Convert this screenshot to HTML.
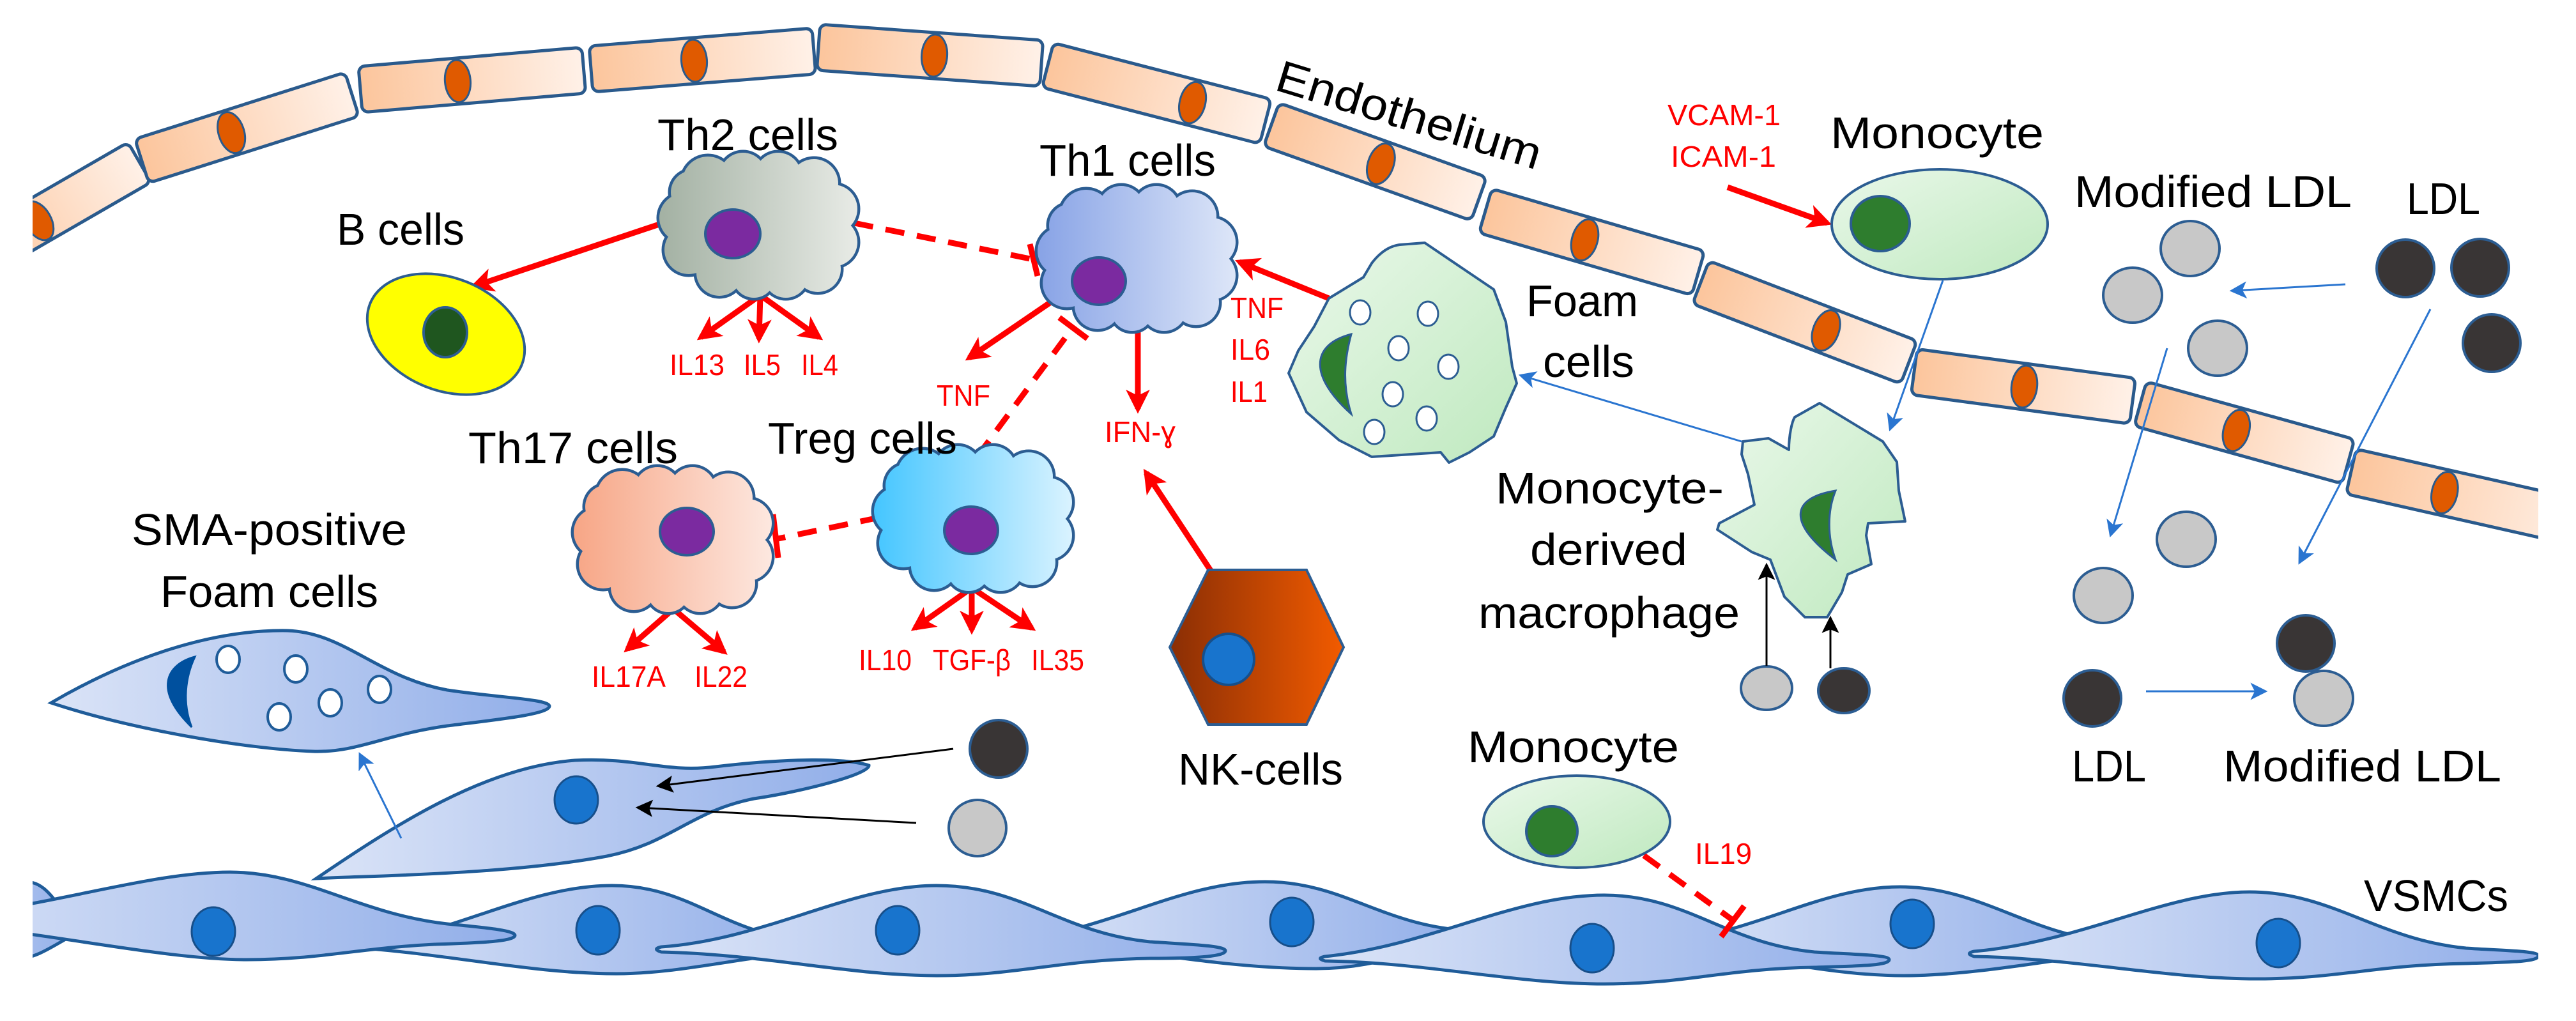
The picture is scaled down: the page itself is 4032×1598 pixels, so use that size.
<!DOCTYPE html>
<html><head><meta charset="utf-8"><style>
html,body{margin:0;padding:0;background:#fff;}
svg{display:block;}
text{font-family:"Liberation Sans",sans-serif;}
</style></head><body>
<svg xmlns="http://www.w3.org/2000/svg" width="4032" height="1598" viewBox="0 0 4032 1598">
<defs>
<linearGradient id="endo" x1="0" y1="0" x2="1" y2="0"><stop offset="0" stop-color="#fcc59c"/><stop offset="1" stop-color="#fff1e8"/></linearGradient>
<linearGradient id="vsmc" x1="0" y1="0" x2="1" y2="0"><stop offset="0" stop-color="#dbe4f7"/><stop offset="1" stop-color="#91aee9"/></linearGradient>
<linearGradient id="green" x1="0" y1="0" x2="1" y2="1"><stop offset="0" stop-color="#eaf8ea"/><stop offset="1" stop-color="#bfe9bf"/></linearGradient>
<linearGradient id="nk" x1="0" y1="0" x2="1" y2="0"><stop offset="0" stop-color="#8a2e05"/><stop offset="1" stop-color="#f25b00"/></linearGradient>
<linearGradient id="gTh2" gradientUnits="userSpaceOnUse" x1="-155" y1="0" x2="155" y2="0"><stop offset="0" stop-color="#a3b1a3"/><stop offset="1" stop-color="#e8ebe6"/></linearGradient>
<linearGradient id="gTh1" gradientUnits="userSpaceOnUse" x1="-155" y1="0" x2="155" y2="0"><stop offset="0" stop-color="#88a3e6"/><stop offset="1" stop-color="#dde6f8"/></linearGradient>
<linearGradient id="gTh17" gradientUnits="userSpaceOnUse" x1="-155" y1="0" x2="155" y2="0"><stop offset="0" stop-color="#f7a686"/><stop offset="1" stop-color="#fde8e0"/></linearGradient>
<linearGradient id="gTreg" gradientUnits="userSpaceOnUse" x1="-155" y1="0" x2="155" y2="0"><stop offset="0" stop-color="#45c6ff"/><stop offset="1" stop-color="#daf3ff"/></linearGradient>
<g id="cloud">
<ellipse cx="0" cy="0" rx="112" ry="76"/>
<circle cx="-80" cy="-68" r="40"/><circle cx="-25" cy="-78" r="36"/><circle cx="30" cy="-78" r="36"/><circle cx="86" cy="-66" r="38"/>
<circle cx="116" cy="-26" r="38"/><circle cx="116" cy="26" r="38"/><circle cx="92" cy="68" r="36"/>
<circle cx="42" cy="78" r="35"/><circle cx="-8" cy="80" r="33"/><circle cx="-62" cy="74" r="36"/>
<circle cx="-110" cy="38" r="38"/><circle cx="-118" cy="-12" r="38"/><circle cx="-104" cy="-52" r="34"/>
</g>
<marker id="ar" viewBox="0 0 10 10" refX="8" refY="5" markerWidth="4.2" markerHeight="4.2" orient="auto"><path d="M0,0 L10,5 L0,10 L2.5,5 z" fill="#ff0000"/></marker>
<marker id="ab" viewBox="0 0 10 10" refX="8" refY="5" markerWidth="9" markerHeight="9" orient="auto"><path d="M0,0 L10,5 L0,10 L2.5,5 z" fill="#2a75d0"/></marker>
<marker id="ak" viewBox="0 0 10 10" refX="8" refY="5" markerWidth="9" markerHeight="9" orient="auto"><path d="M0,0 L10,5 L0,10 L2,5 z" fill="#000"/></marker>
<clipPath id="clip"><rect x="51" y="0" width="3922" height="1598"/></clipPath>
</defs>
<rect width="4032" height="1598" fill="#fff"/>

<!-- Endothelium -->
<g clip-path="url(#clip)" stroke="#2a5a8c" stroke-width="5">
<g transform="translate(-38,402) rotate(-30)"><rect x="0" y="-36" width="296" height="72" rx="10" fill="url(#endo)"/><ellipse cx="113" cy="0" rx="20" ry="33" fill="#e05a00" stroke-width="3"/></g>
<g transform="translate(222,252) rotate(-17.6)"><rect x="0" y="-36" width="345" height="72" rx="10" fill="url(#endo)"/><ellipse cx="147" cy="0" rx="20" ry="33" fill="#e05a00" stroke-width="3"/></g>
<g transform="translate(564,140) rotate(-4.9)"><rect x="0" y="-36" width="351" height="72" rx="10" fill="url(#endo)"/><ellipse cx="153" cy="0" rx="20" ry="33" fill="#e05a00" stroke-width="3"/></g>
<g transform="translate(925,108) rotate(-4.6)"><rect x="0" y="-36" width="350" height="72" rx="10" fill="url(#endo)"/><ellipse cx="162" cy="0" rx="20" ry="33" fill="#e05a00" stroke-width="3"/></g>
<g transform="translate(1281,74) rotate(4.1)"><rect x="0" y="-36" width="350" height="72" rx="10" fill="url(#endo)"/><ellipse cx="182" cy="0" rx="20" ry="33" fill="#e05a00" stroke-width="3"/></g>
<g transform="translate(1640,102) rotate(14.5)"><rect x="0" y="-36" width="352" height="72" rx="10" fill="url(#endo)"/><ellipse cx="234" cy="0" rx="20" ry="33" fill="#e05a00" stroke-width="3"/></g>
<g transform="translate(1990,195) rotate(19.7)"><rect x="0" y="-36" width="345" height="72" rx="10" fill="url(#endo)"/><ellipse cx="182" cy="0" rx="20" ry="33" fill="#e05a00" stroke-width="3"/></g>
<g transform="translate(2325,330) rotate(16.3)"><rect x="0" y="-36" width="347" height="72" rx="10" fill="url(#endo)"/><ellipse cx="162" cy="0" rx="20" ry="33" fill="#e05a00" stroke-width="3"/></g>
<g transform="translate(2662,442) rotate(21)"><rect x="0" y="-36" width="349" height="72" rx="10" fill="url(#endo)"/><ellipse cx="210" cy="0" rx="20" ry="33" fill="#e05a00" stroke-width="3"/></g>
<g transform="translate(2996,582) rotate(7.6)"><rect x="0" y="-36" width="345" height="72" rx="10" fill="url(#endo)"/><ellipse cx="174" cy="0" rx="20" ry="33" fill="#e05a00" stroke-width="3"/></g>
<g transform="translate(3350,632) rotate(15.5)"><rect x="0" y="-36" width="338" height="72" rx="10" fill="url(#endo)"/><ellipse cx="156" cy="0" rx="20" ry="33" fill="#e05a00" stroke-width="3"/></g>
<g transform="translate(3680,738) rotate(12.7)"><rect x="0" y="-36" width="380" height="72" rx="10" fill="url(#endo)"/><ellipse cx="150" cy="0" rx="20" ry="33" fill="#e05a00" stroke-width="3"/></g>
</g>
<text x="1993" y="140" font-size="70" transform="rotate(17 1993 140)" textLength="430" lengthAdjust="spacingAndGlyphs">Endothelium</text>

<!-- VSMCs -->
<g clip-path="url(#clip)" stroke="#1f5c99" stroke-width="5" fill="url(#vsmc)">
<!-- B -->
<path d="M540,1482 C 700,1470 820,1386 958,1386 C 1080,1386 1130,1460 1260,1472 Q1280,1480 1260,1490 C 1150,1500 1060,1524 965,1524 C 830,1524 700,1492 540,1482 Z"/>
<ellipse cx="936" cy="1456" rx="34" ry="38" fill="#1874cd" stroke="#174f8a" stroke-width="3"/>
<!-- D -->
<path d="M1600,1470 C 1750,1450 1850,1380 1980,1380 C 2100,1380 2160,1446 2290,1456 Q2310,1464 2290,1474 C 2200,1490 2150,1516 2060,1516 C 1900,1516 1750,1480 1600,1470 Z"/>
<ellipse cx="2022" cy="1443" rx="34" ry="38" fill="#1874cd" stroke="#174f8a" stroke-width="3"/>
<!-- F -->
<path d="M2600,1476 C 2750,1460 2850,1388 2974,1388 C 3100,1388 3180,1466 3310,1474 Q3330,1482 3310,1490 C 3200,1505 3080,1527 2980,1527 C 2850,1527 2720,1490 2600,1476 Z"/>
<ellipse cx="2993" cy="1446" rx="34" ry="38" fill="#1874cd" stroke="#174f8a" stroke-width="3"/>
<!-- A0 -->
<path d="M-200,1440 C -50,1420 0,1380 40,1380 C 80,1380 90,1430 125,1446 Q135,1452 125,1458 C 90,1475 60,1500 30,1500 C -50,1500 -120,1460 -200,1440 Z"/>
<!-- A -->
<path d="M-150,1440 C 50,1430 220,1365 360,1365 C 480,1365 560,1430 700,1446 C 760,1452 806,1456 806,1464 C 806,1474 740,1476 680,1478 C 560,1484 500,1502 386,1502 C 250,1502 60,1455 -150,1440 Z"/>
<ellipse cx="334" cy="1458" rx="34" ry="38" fill="#1874cd" stroke="#174f8a" stroke-width="3"/>
<!-- C -->
<path d="M1035,1482 C 1200,1470 1330,1386 1466,1386 C 1600,1386 1660,1460 1800,1474 C 1860,1478 1918,1480 1918,1488 C 1918,1498 1860,1500 1800,1500 C 1660,1502 1590,1527 1466,1527 C 1330,1527 1200,1494 1035,1490 C 1025,1487 1025,1484 1035,1482 Z"/>
<ellipse cx="1405" cy="1456" rx="34" ry="38" fill="#1874cd" stroke="#174f8a" stroke-width="3"/>
<!-- E -->
<path d="M2074,1497 C 2240,1480 2370,1401 2511,1401 C 2640,1401 2700,1476 2840,1490 C 2900,1494 2957,1494 2957,1502 C 2957,1512 2900,1512 2840,1514 C 2700,1516 2640,1540 2511,1540 C 2370,1540 2230,1506 2074,1504 C 2064,1501 2064,1499 2074,1497 Z"/>
<ellipse cx="2492" cy="1484" rx="34" ry="38" fill="#1874cd" stroke="#174f8a" stroke-width="3"/>
<!-- G -->
<path d="M3090,1489 C 3260,1474 3390,1396 3521,1396 C 3650,1396 3720,1470 3860,1484 C 3920,1488 3973,1488 3973,1496 C 3973,1506 3920,1506 3860,1508 C 3720,1510 3660,1532 3533,1532 C 3390,1532 3250,1500 3090,1497 C 3080,1494 3080,1491 3090,1489 Z"/>
<ellipse cx="3566" cy="1476" rx="34" ry="38" fill="#1874cd" stroke="#174f8a" stroke-width="3"/>
</g>
<text x="3700" y="1426" font-size="70" textLength="226" lengthAdjust="spacingAndGlyphs">VSMCs</text>

<!-- SMA-positive foam cell -->
<path d="M80,1100 C 200,1030 330,985 450,987 C 540,990 590,1060 700,1080 C 780,1092 858,1094 860,1105 C 860,1118 780,1126 700,1136 C 600,1150 560,1178 490,1176 C 380,1172 200,1140 80,1100 Z" fill="url(#vsmc)" stroke="#1f5c99" stroke-width="5"/>
<path d="M305,1028 C 260,1040 240,1080 300,1138 C 285,1100 290,1060 305,1028 Z" fill="#00509e" stroke="#00509e" stroke-width="3"/>
<g fill="#fff" stroke="#1f5c99" stroke-width="4">
<ellipse cx="357" cy="1032" rx="18" ry="21"/><ellipse cx="463" cy="1047" rx="18" ry="21"/><ellipse cx="594" cy="1079" rx="18" ry="21"/><ellipse cx="517" cy="1100" rx="18" ry="21"/><ellipse cx="437" cy="1122" rx="18" ry="21"/>
</g>
<text x="206" y="853" font-size="70" textLength="431" lengthAdjust="spacingAndGlyphs">SMA-positive</text>
<text x="251" y="950" font-size="70" textLength="341" lengthAdjust="spacingAndGlyphs">Foam cells</text>

<!-- migrating VSMC -->
<path d="M495,1375 C 620,1290 760,1200 900,1190 C 1000,1185 1040,1210 1120,1200 C 1220,1188 1320,1185 1360,1198 C 1362,1212 1250,1240 1180,1250 C 1080,1270 1050,1320 950,1340 C 800,1368 600,1370 495,1375 Z" fill="url(#vsmc)" stroke="#1f5c99" stroke-width="5"/>
<ellipse cx="902" cy="1252" rx="34" ry="37" fill="#1874cd" stroke="#174f8a" stroke-width="3"/>
<line x1="628" y1="1312" x2="564" y2="1182" stroke="#2a75d0" stroke-width="3" marker-end="url(#ab)"/>
<ellipse cx="1563" cy="1172" rx="45" ry="45" fill="#393535" stroke="#2c5d92" stroke-width="4"/>
<ellipse cx="1530" cy="1296" rx="45" ry="44" fill="#c8c8c8" stroke="#2c5d92" stroke-width="4"/>
<line x1="1492" y1="1172" x2="1032" y2="1230" stroke="#000" stroke-width="3" marker-end="url(#ak)"/>
<line x1="1434" y1="1288" x2="1000" y2="1264" stroke="#000" stroke-width="3" marker-end="url(#ak)"/>

<!-- red connectors -->
<g stroke="#ff0000" stroke-width="9" fill="none">
<line x1="1035" y1="350" x2="742" y2="448" marker-end="url(#ar)"/>
<line x1="1190" y1="462" x2="1097" y2="528" marker-end="url(#ar)"/>
<line x1="1190" y1="462" x2="1188" y2="530" marker-end="url(#ar)"/>
<line x1="1190" y1="462" x2="1282" y2="528" marker-end="url(#ar)"/>
<line x1="1646" y1="472" x2="1517" y2="560" marker-end="url(#ar)"/>
<line x1="1781" y1="515" x2="1781" y2="640" marker-end="url(#ar)"/>
<line x1="1895" y1="893" x2="1794" y2="740" marker-end="url(#ar)"/>
<line x1="2080" y1="467" x2="1940" y2="410" marker-end="url(#ar)"/>
<line x1="1054" y1="953" x2="982" y2="1016" marker-end="url(#ar)"/>
<line x1="1054" y1="953" x2="1133" y2="1020" marker-end="url(#ar)"/>
<line x1="1521" y1="920" x2="1432" y2="983" marker-end="url(#ar)"/>
<line x1="1521" y1="920" x2="1521" y2="986" marker-end="url(#ar)"/>
<line x1="1521" y1="920" x2="1615" y2="983" marker-end="url(#ar)"/>
<line x1="2704" y1="293" x2="2860" y2="349" marker-end="url(#ar)"/>
<g stroke-dasharray="30 20">
<line x1="1337" y1="349" x2="1612" y2="405"/>
<line x1="1530" y1="714" x2="1676" y2="517"/>
<line x1="1376" y1="810" x2="1218" y2="843"/>
<line x1="2573" y1="1339" x2="2712" y2="1440"/>
</g>
<line x1="1612" y1="382" x2="1624" y2="432"/>
<line x1="1658" y1="497" x2="1702" y2="530"/>
<line x1="1210" y1="805" x2="1218" y2="873"/>
<line x1="2730" y1="1418" x2="2694" y2="1466"/>
</g>

<!-- clouds -->
<g transform="translate(1188,353)"><use href="#cloud" fill="#2c5d92" stroke="#2c5d92" stroke-width="9"/><use href="#cloud" fill="url(#gTh2)"/></g>
<g transform="translate(1780,405)"><use href="#cloud" fill="#2c5d92" stroke="#2c5d92" stroke-width="9"/><use href="#cloud" fill="url(#gTh1)"/></g>
<g transform="translate(1054,845)"><use href="#cloud" fill="#2c5d92" stroke="#2c5d92" stroke-width="9"/><use href="#cloud" fill="url(#gTh17)"/></g>
<g transform="translate(1524,812)"><use href="#cloud" fill="#2c5d92" stroke="#2c5d92" stroke-width="9"/><use href="#cloud" fill="url(#gTreg)"/></g>
<g fill="#7b2aa0" stroke="#2c5d92" stroke-width="4">
<ellipse cx="1147" cy="366" rx="43" ry="38"/>
<ellipse cx="1720" cy="440" rx="42" ry="37"/>
<ellipse cx="1075" cy="832" rx="42" ry="37"/>
<ellipse cx="1520" cy="830" rx="42" ry="37"/>
</g>

<!-- B cell -->
<ellipse cx="698" cy="523" rx="128" ry="88" transform="rotate(22 698 523)" fill="#ffff00" stroke="#2c5d92" stroke-width="4"/>
<ellipse cx="697" cy="520" rx="34" ry="39" fill="#1f561f" stroke="#2c5d92" stroke-width="4"/>

<!-- NK -->
<polygon points="1891,892 2045,892 2103,1013 2045,1134 1891,1134 1831,1013" fill="url(#nk)" stroke="#2c5d92" stroke-width="4"/>
<circle cx="1923" cy="1032" r="40" fill="#1874cd" stroke="#174f8a" stroke-width="4"/>

<!-- Foam cell -->
<path d="M2080,467 L2134,434 L2147,412 C2160,395 2175,385 2191,383 L2230,380 L2338,453 L2357,504 L2367,574 L2374,600 L2357,638 L2338,683 L2300,708 L2268,724 L2255,708 L2147,715 L2096,689 L2045,645 L2017,584 L2032,549 L2057,511 Z" fill="url(#green)" stroke="#2c5d92" stroke-width="4" stroke-linejoin="round"/>
<path d="M2115,523 C2050,540 2050,590 2115,648 C2100,600 2105,560 2115,523 Z" fill="#2e7d2e" stroke="#2c5d92" stroke-width="3"/>
<g fill="#fff" stroke="#2c5d92" stroke-width="3">
<ellipse cx="2129" cy="489" rx="16" ry="19"/><ellipse cx="2235" cy="491" rx="16" ry="19"/><ellipse cx="2189" cy="545" rx="16" ry="19"/><ellipse cx="2267" cy="574" rx="16" ry="19"/><ellipse cx="2180" cy="617" rx="16" ry="19"/><ellipse cx="2233" cy="655" rx="16" ry="19"/><ellipse cx="2151" cy="676" rx="16" ry="19"/>
</g>

<!-- Macrophage -->
<path d="M2728,691 L2768,686 L2800,704 C2800,680 2805,660 2809,653 L2848,631 L2947,691 L2969,723 L2972,768 L2982,816 L2924,819 L2921,838 L2929,883 L2892,899 L2883,927 L2860,966 L2825,966 L2793,934 L2771,876 L2742,864 L2688,829 L2691,819 L2746,790 L2736,742 L2726,711 Z" fill="url(#green)" stroke="#2c5d92" stroke-width="4" stroke-linejoin="round"/>
<path d="M2873,768 C2800,780 2800,820 2873,876 C2860,840 2860,800 2873,768 Z" fill="#2e7d2e" stroke="#2c5d92" stroke-width="3"/>

<!-- Monocytes -->
<ellipse cx="3036" cy="351" rx="169" ry="86" fill="url(#green)" stroke="#2c5d92" stroke-width="4"/>
<ellipse cx="2943" cy="350" rx="46" ry="43" fill="#2e7d2e" stroke="#2c5d92" stroke-width="4"/>
<ellipse cx="2468" cy="1286" rx="146" ry="72" fill="url(#green)" stroke="#2c5d92" stroke-width="4"/>
<ellipse cx="2429" cy="1301" rx="40" ry="39" fill="#2e7d2e" stroke="#2c5d92" stroke-width="4"/>

<!-- LDL particles -->
<g stroke="#2c5d92" stroke-width="4">
<ellipse cx="3428" cy="389" rx="46" ry="43" fill="#c8c8c8"/>
<ellipse cx="3338" cy="462" rx="46" ry="43" fill="#c8c8c8"/>
<ellipse cx="3471" cy="545" rx="46" ry="43" fill="#c8c8c8"/>
<ellipse cx="3422" cy="844" rx="46" ry="43" fill="#c8c8c8"/>
<ellipse cx="3292" cy="932" rx="46" ry="43" fill="#c8c8c8"/>
<ellipse cx="3765" cy="420" rx="45" ry="45" fill="#393535"/>
<ellipse cx="3882" cy="419" rx="45" ry="45" fill="#393535"/>
<ellipse cx="3900" cy="537" rx="45" ry="45" fill="#393535"/>
<ellipse cx="3609" cy="1007" rx="45" ry="44" fill="#393535"/>
<ellipse cx="3637" cy="1093" rx="46" ry="43" fill="#c8c8c8"/>
<ellipse cx="3275" cy="1093" rx="45" ry="44" fill="#393535"/>
<ellipse cx="2765" cy="1077" rx="40" ry="34" fill="#c8c8c8"/>
<ellipse cx="2886" cy="1081" rx="40" ry="35" fill="#393535"/>
</g>

<!-- blue & black thin arrows -->
<g stroke="#2a75d0" stroke-width="3">
<line x1="3041" y1="439" x2="2959" y2="670" marker-end="url(#ab)"/>
<line x1="2726" y1="691" x2="2382" y2="588" marker-end="url(#ab)"/>
<line x1="3671" y1="445" x2="3495" y2="455" marker-end="url(#ab)"/>
<line x1="3392" y1="545" x2="3304" y2="836" marker-end="url(#ab)"/>
<line x1="3804" y1="484" x2="3600" y2="879" marker-end="url(#ab)"/>
<line x1="3359" y1="1082" x2="3544" y2="1082" marker-end="url(#ab)"/>
</g>
<g stroke="#000" stroke-width="3">
<line x1="2765" y1="1042" x2="2765" y2="886" marker-end="url(#ak)"/>
<line x1="2865" y1="1046" x2="2865" y2="969" marker-end="url(#ak)"/>
</g>

<!-- black labels -->
<g font-size="70" fill="#000">
<text x="1029" y="235" textLength="283" lengthAdjust="spacingAndGlyphs">Th2 cells</text>
<text x="527" y="383" textLength="200" lengthAdjust="spacingAndGlyphs">B cells</text>
<text x="1627" y="275" textLength="276" lengthAdjust="spacingAndGlyphs">Th1 cells</text>
<text x="733" y="725" textLength="328" lengthAdjust="spacingAndGlyphs">Th17 cells</text>
<text x="1202" y="710" textLength="296" lengthAdjust="spacingAndGlyphs">Treg cells</text>
<text x="2865" y="232" textLength="334" lengthAdjust="spacingAndGlyphs">Monocyte</text>
<text x="2389" y="495" textLength="175" lengthAdjust="spacingAndGlyphs">Foam</text>
<text x="2415" y="590" textLength="143" lengthAdjust="spacingAndGlyphs">cells</text>
<text x="2341" y="788" textLength="357" lengthAdjust="spacingAndGlyphs">Monocyte-</text>
<text x="2395" y="884" textLength="246" lengthAdjust="spacingAndGlyphs">derived</text>
<text x="2314" y="983" textLength="409" lengthAdjust="spacingAndGlyphs">macrophage</text>
<text x="1844" y="1228" textLength="258" lengthAdjust="spacingAndGlyphs">NK-cells</text>
<text x="2297" y="1193" textLength="331" lengthAdjust="spacingAndGlyphs">Monocyte</text>
<text x="3247" y="324" textLength="434" lengthAdjust="spacingAndGlyphs">Modified LDL</text>
<text x="3767" y="335" textLength="115" lengthAdjust="spacingAndGlyphs">LDL</text>
<text x="3243" y="1223" textLength="116" lengthAdjust="spacingAndGlyphs">LDL</text>
<text x="3480" y="1223" textLength="435" lengthAdjust="spacingAndGlyphs">Modified LDL</text>
</g>

<!-- red labels -->
<g font-size="46" fill="#ff0000">
<text x="1048" y="587" textLength="86" lengthAdjust="spacingAndGlyphs">IL13</text>
<text x="1164" y="587" textLength="58" lengthAdjust="spacingAndGlyphs">IL5</text>
<text x="1254" y="587" textLength="58" lengthAdjust="spacingAndGlyphs">IL4</text>
<text x="1466" y="635" textLength="84" lengthAdjust="spacingAndGlyphs">TNF</text>
<text x="1729" y="692" textLength="111" lengthAdjust="spacingAndGlyphs">IFN-ɣ</text>
<text x="1926" y="498" textLength="83" lengthAdjust="spacingAndGlyphs">TNF</text>
<text x="1926" y="563" textLength="62" lengthAdjust="spacingAndGlyphs">IL6</text>
<text x="1926" y="629" textLength="58" lengthAdjust="spacingAndGlyphs">IL1</text>
<text x="926" y="1075" textLength="116" lengthAdjust="spacingAndGlyphs">IL17A</text>
<text x="1087" y="1075" textLength="83" lengthAdjust="spacingAndGlyphs">IL22</text>
<text x="1344" y="1049" textLength="83" lengthAdjust="spacingAndGlyphs">IL10</text>
<text x="1460" y="1049" textLength="122" lengthAdjust="spacingAndGlyphs">TGF-β</text>
<text x="1614" y="1049" textLength="83" lengthAdjust="spacingAndGlyphs">IL35</text>
<text x="2610" y="196" textLength="177" lengthAdjust="spacingAndGlyphs">VCAM-1</text>
<text x="2615" y="261" textLength="165" lengthAdjust="spacingAndGlyphs">ICAM-1</text>
<text x="2653" y="1352" textLength="89" lengthAdjust="spacingAndGlyphs">IL19</text>
</g>
</svg>
</body></html>
